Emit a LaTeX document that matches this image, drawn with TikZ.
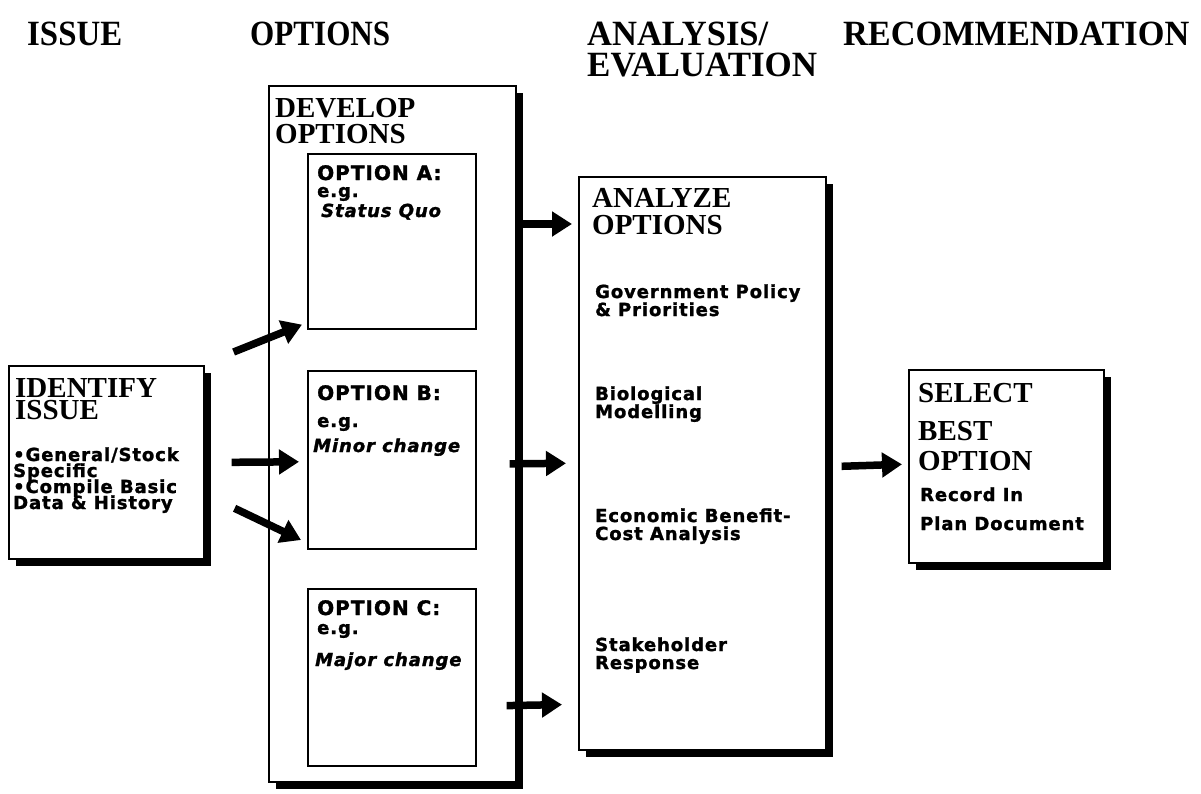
\documentclass[tikz,border=0pt]{standalone}
\usepackage{fontspec}
\setmainfont{Liberation Serif}
\newfontfamily\hsans[LetterSpace=5,FakeBold=1.5,ItalicFont={DejaVu Sans Bold Oblique}]{DejaVu Sans Bold}
\usetikzlibrary{arrows.meta,shadows}
\newcommand\hdtxt[2]{\resizebox{#1}{23.5pt}{\bfseries #2}}
\begin{document}
\begin{tikzpicture}[x=1pt,y=-1pt,
  hd/.style={anchor=base west,inner sep=0pt},
  ttl/.style={anchor=base west,inner sep=0pt,text height=19pt,text depth=0pt,font=\fontsize{29}{30}\selectfont\bfseries},
  sns/.style={anchor=base west,inner sep=0pt,text height=12pt,text depth=2pt,font=\hsans\fontsize{18}{18}\selectfont},
  opth/.style={anchor=base west,inner sep=0pt,text height=14pt,text depth=0pt,font=\hsans\fontsize{20}{20}\selectfont},
  opti/.style={anchor=base west,inner sep=0pt,text height=13pt,text depth=3pt,font=\hsans\itshape\fontsize{18}{18}\selectfont},
  plainbox/.style={draw=black,line width=1.6pt,fill=white,rectangle,anchor=north west,inner sep=0pt},
  shbox/.style={plainbox,drop shadow={shadow xshift=7pt,shadow yshift=-7pt,fill=black,opacity=1}},
  fat/.style={line width=7.5pt,-{Triangle[length=20pt,width=24pt]}}]
\useasboundingbox (0,0) rectangle (1201,793);

% headings
\node[hd] (hIssue) at (27,45) {\hdtxt{95pt}{ISSUE}};
\node[hd] (hOpt) at (250,45) {\hdtxt{140pt}{OPTIONS}};
\node[hd] (hAna) at (587,45) {\hdtxt{181pt}{ANALYSIS/}};
\node[hd] (hEva) at (587,76) {\hdtxt{230pt}{EVALUATION}};
\node[hd] (hRec) at (843,45) {\hdtxt{346pt}{RECOMMENDATION}};

% boxes
\node[shbox,minimum width=195pt,minimum height=193pt] (identify) at (8,365) {};
\node[shbox,minimum width=247pt,minimum height=696pt] (develop) at (268,85) {};
\node[plainbox,minimum width=168pt,minimum height=175pt] (optA) at (307,153) {};
\node[plainbox,minimum width=168pt,minimum height=178pt] (optB) at (307,370) {};
\node[plainbox,minimum width=168pt,minimum height=177pt] (optC) at (307,588) {};
\node[shbox,minimum width=247pt,minimum height=573pt] (analyze) at (578,176) {};
\node[shbox,minimum width=195pt,minimum height=193pt] (select) at (908,369) {};

% identify texts
\node[ttl] (iT1) at (15,397) {IDENTIFY};
\node[ttl] (iT2) at (15,419) {ISSUE};
\node[sns] (iB1) at (13,461) {•General/Stock};
\node[sns] (iB2) at (13,477) {Specific};
\node[sns] (iB3) at (13,493) {•Compile Basic};
\node[sns] (iB4) at (13,509) {Data \& History};

% develop texts
\node[ttl] (dT1) at (275,117) {DEVELOP};
\node[ttl] (dT2) at (275,143) {OPTIONS};
\node[opth] (aH) at (317,180) {OPTION A:};
\node[sns] (aE) at (317,197) {e.g.};
\node[opti] (aI) at (321,217) {Status Quo};
\node[opth] (bH) at (317,400) {OPTION B:};
\node[sns] (bE) at (317,427) {e.g.};
\node[opti] (bI) at (313,452) {Minor change};
\node[opth] (cH) at (317,615) {OPTION C:};
\node[sns] (cE) at (317,634) {e.g.};
\node[opti] (cI) at (315,666) {Major change};

% analyze texts
\node[ttl] (nT1) at (592,207) {ANALYZE};
\node[ttl] (nT2) at (592,234) {OPTIONS};
\node[sns] (n1) at (595,298) {Government Policy};
\node[sns] (n2) at (595,316) {\& Priorities};
\node[sns] (n3) at (595,400) {Biological};
\node[sns] (n4) at (595,418) {Modelling};
\node[sns] (n5) at (595,522) {Economic Benefit-};
\node[sns] (n6) at (595,540) {Cost Analysis};
\node[sns] (n7) at (595,651) {Stakeholder};
\node[sns] (n8) at (595,669) {Response};

% select texts
\node[ttl] (sT1) at (918,402) {SELECT};
\node[ttl] (sT2) at (918,440) {BEST};
\node[ttl] (sT3) at (918,470) {OPTION};
\node[sns] (s1) at (920,501) {Record In};
\node[sns] (s2) at (920,530) {Plan Document};

% arrows
\draw[fat] ([shift={(29,-13)}]identify.north east) -- ([shift={(-5,-5)}]optA.south west);
\draw[fat] ([shift={(27,0)}]identify.east) -- ([shift={(-8,2)}]optB.west);
\draw[fat] ([shift={(30,46)}]identify.east) -- ([shift={(-6,-48)}]optC.north west);
\draw[fat] ([shift={(3,139)}]develop.north east) -- ([shift={(-6,48)}]analyze.north west);
\draw[fat] ([shift={(-7,30)}]develop.east) -- ([shift={(-12,0)}]analyze.west);
\draw[fat] ([shift={(-10,-77)}]develop.south east) -- ([shift={(-16,-46)}]analyze.south west);
\draw[fat] ([shift={(15,3)}]analyze.east) -- ([shift={(-6,-2)}]select.west);
\end{tikzpicture}
\end{document}
